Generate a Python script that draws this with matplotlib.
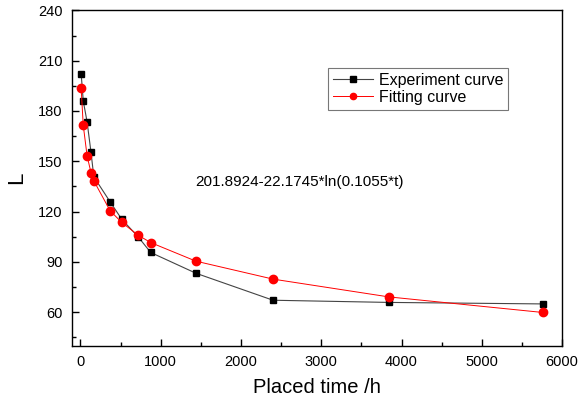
import matplotlib
matplotlib.use('Agg')
import matplotlib.pyplot as plt
from matplotlib.ticker import MultipleLocator

plt.rcParams['font.family'] = ['Liberation Sans', 'DejaVu Sans']

# Data
t = [10, 36, 84, 132, 168, 372, 516, 720, 876, 1440, 2400, 3840, 5760]
experiment = [202.3, 186.0, 173.5, 155.6, 140.7, 125.7, 115.4, 104.9, 95.6, 83.2, 67.1, 65.8, 64.9]
fitting = [193.5, 171.5, 153.2, 143.3, 138.3, 120.4, 113.5, 105.9, 101.5, 90.4, 79.7, 69.1, 59.8]
formula = '201.8924-22.1745*ln(0.1055*t)'

fig = plt.figure(figsize=(5.88, 4.01), dpi=100)
ax = fig.add_axes([0.123, 0.138, 0.833, 0.836])

ax.plot(t, experiment, color='#444444', lw=0.8, marker='s', ms=5,
        mfc='black', mec='black', label='Experiment curve')
ax.plot(t, fitting, color='red', lw=0.7, marker='o', ms=6,
        mfc='red', mec='red', label='Fitting curve')

ax.set_xlim(-100, 6000)
ax.set_ylim(40, 240)
ax.xaxis.set_major_locator(MultipleLocator(1000))
ax.xaxis.set_minor_locator(MultipleLocator(500))
ax.yaxis.set_minor_locator(MultipleLocator(15))
ax.set_yticks(range(60, 241, 30))
ax.tick_params(which='both', direction='in', top=False, right=False, labelsize=10.5, width=1)
ax.tick_params(which='major', length=5, pad=7)
ax.tick_params(which='minor', length=3)
for s in ax.spines.values():
    s.set_linewidth(1)

ax.set_xlabel('Placed time /h', fontsize=14.5, labelpad=6)
ax.set_ylabel('L', fontsize=16, labelpad=8)

ax.text(0.25, 0.487, formula, transform=ax.transAxes, fontsize=11, va='center', ha='left')

leg = ax.legend(loc='upper left', bbox_to_anchor=(0.522, 0.829), fontsize=11.5,
                frameon=True, fancybox=False, edgecolor='#555555', borderpad=0.3,
                handlelength=2.5, handletextpad=0.4, labelspacing=0.15,
                borderaxespad=0, markerscale=0.75)
leg.get_frame().set_linewidth(0.8)

fig.savefig('out.png', dpi=100)
